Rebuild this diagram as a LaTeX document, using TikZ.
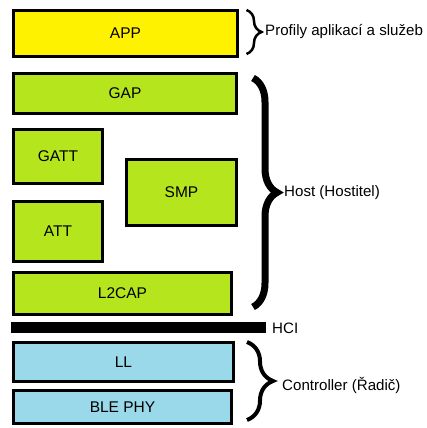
\documentclass[tikz,border=0pt]{standalone}
\usepackage{fontspec}
\setmainfont{Liberation Sans}
\usetikzlibrary{decorations.pathreplacing}
\definecolor{appyellow}{RGB}{255,242,0}
\definecolor{hostgreen}{RGB}{181,230,29}
\definecolor{ctrlblue}{RGB}{153,217,234}
\tikzset{
  layer/.style={draw=black, line width=3pt, inner sep=0pt, font=\fontsize{15.5}{18}\selectfont},
  hostlayer/.style={layer, fill=hostgreen},
  ctrllayer/.style={layer, fill=ctrlblue},
  grouplabel/.style={anchor=west, inner sep=0pt, font=\fontsize{15.1}{18}\selectfont},
  groupbrace/.style={decorate, decoration={brace, amplitude=#1}}
}
\begin{document}
\begin{tikzpicture}[x=1pt, y=-1pt]
\useasboundingbox (0,0) rectangle (427,428);

% application layer
\node[layer, fill=appyellow, minimum width=224pt, minimum height=46pt] (app) at (125.5,33.5) {APP};

% host layers
\node[hostlayer, minimum width=223pt, minimum height=40pt] (gap) at (125,93.5) {GAP};
\node[hostlayer, minimum width=89pt, minimum height=54pt] (gatt) at (58,156.5) {GATT};
\node[hostlayer, minimum width=110pt, minimum height=66pt] (smp) at (181.5,192.5) {SMP};
\node[hostlayer, minimum width=89pt, minimum height=60pt] (att) at (58,231.5) {ATT};
\node[hostlayer, minimum width=218pt, minimum height=42pt] (l2cap) at (122.5,293.5) {L2CAP};

% host controller interface
\node[fill=black, inner sep=0pt, minimum width=255pt, minimum height=11pt] (hci) at (138.5,327.5) {};
\node[grouplabel] (hcilabel) at (272,328) {HCI};

% controller layers
\node[ctrllayer, minimum width=220pt, minimum height=39pt] (ll) at (123.5,362) {LL};
\node[ctrllayer, minimum width=218pt, minimum height=33pt] (phy) at (122.5,407) {BLE PHY};

% braces and group labels
\coordinate (appB1) at (246.5,54);
\coordinate (appB2) at (246.5,10);
\draw[groupbrace=15pt, line width=2.5pt] (appB2) -- (appB1);
\node[grouplabel] (applabel) at (265,32) {Profily aplikací a služeb};

\coordinate (hostB1) at (253,78);
\coordinate (hostB2) at (253,307);
\draw[groupbrace=24pt, line width=7pt] (hostB1) -- (hostB2);
\node[grouplabel] (hostlabel) at (284,193) {Host (Hostitel)};

\coordinate (ctrlB1) at (247,342);
\coordinate (ctrlB2) at (247,420);
\draw[groupbrace=26pt, line width=4pt] (ctrlB1) -- (ctrlB2);
\node[grouplabel] (ctrllabel) at (282,385) {Controller (Řadič)};
\end{tikzpicture}
\end{document}
